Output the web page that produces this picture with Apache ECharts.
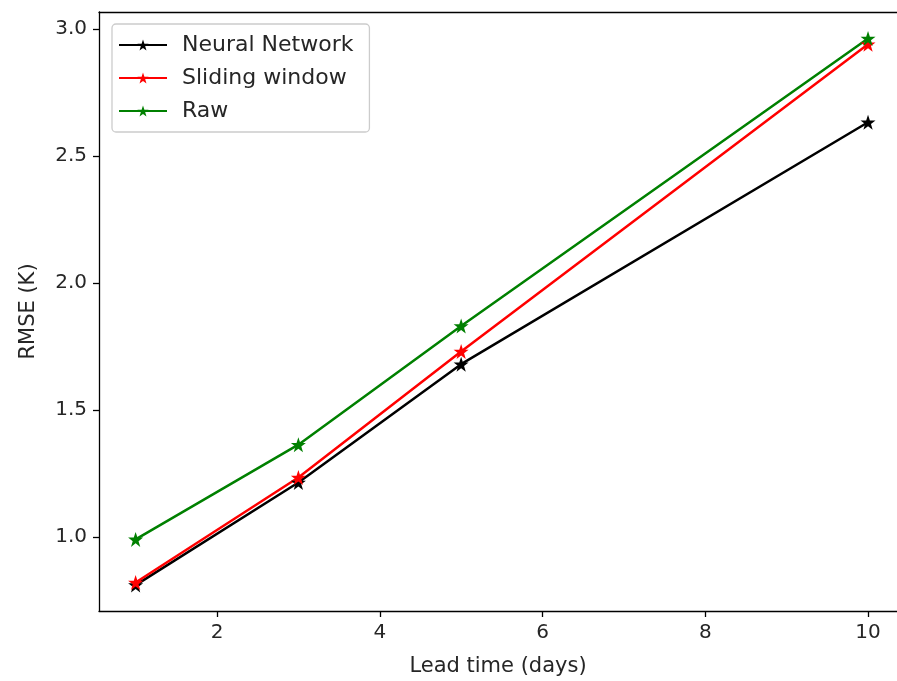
<!DOCTYPE html>
<html>
<head>
<meta charset="utf-8">
<script src="https://cdn.jsdelivr.net/npm/echarts@6/dist/echarts.min.js"></script>
<style>
  html, body { margin: 0; padding: 0; background: #fff; }
  #chart { width: 897px; height: 681px; }
</style>
</head>
<body>
<div id="chart"></div>
<script>
const leadTimes = [1, 3, 5, 10]
const neuralNetwork = [0.81, 1.214, 1.68, 2.633]
const slidingWindow = [0.82, 1.234, 1.73, 2.94]
const raw = [0.99, 1.363, 1.83, 2.963]
const xTicks = [2, 4, 6, 8, 10]
const yTicks = [1.0, 1.5, 2.0, 2.5, 3.0]

const star = 'path://M50,0 L61.8,34.5 L97.6,34.5 L68.6,55.9 L79.4,90.5 L50,69.1 L20.6,90.5 L31.4,55.9 L2.4,34.5 L38.2,34.5 Z'
const font = 'DejaVu Sans'
const txt = '#262626'

const pairs = ys => leadTimes.map((x, i) => [x, ys[i]])

const mkSeries = (name, ys, color) => ({
  name,
  type: 'line',
  data: pairs(ys),
  symbol: star,
  symbolSize: 15,
  showSymbol: true,
  lineStyle: { color, width: 2.5 },
  itemStyle: { color },
  animation: false,
  emphasis: { disabled: true },
})

// plot is cut off on the right in the reference: no right spine, x range ends at ~10.36
const chart = echarts.init(document.getElementById('chart'))
chart.setOption({
  backgroundColor: '#fff',
  textStyle: { fontFamily: font },
  grid: { left: 99, right: 0, top: 12, bottom: 70, show: false, outerBoundsMode: 'none', containLabel: false },
  legend: {
    orient: 'vertical',
    left: 112, top: 24,
    padding: [10, 16, 10, 6],
    backgroundColor: 'rgba(255,255,255,0.8)',
    borderColor: '#cccccc', borderWidth: 1.3, borderRadius: 4,
    itemWidth: 48, itemHeight: 14, itemGap: 11,
    textStyle: { fontFamily: font, fontSize: 22, color: txt, lineHeight: 22, padding: [0, 0, 0, 10] },
    data: ['Neural Network', 'Sliding window', 'Raw'],
  },
  xAxis: [{
    type: 'value',
    min: 0.55, max: 10.356,
    name: 'Lead time (days)',
    nameLocation: 'middle', nameGap: 45,
    nameTextStyle: { fontFamily: font, fontSize: 21, color: txt },
    axisLine: { show: true, lineStyle: { color: '#000', width: 1.3 } },
    axisTick: { show: true, length: 6, customValues: xTicks, lineStyle: { color: '#000', width: 1.3 } },
    axisLabel: { customValues: xTicks, fontFamily: font, fontSize: 20, color: txt, margin: 12 },
    splitLine: { show: false },
  }, {
    type: 'value', position: 'top',
    min: 0.55, max: 10.356,
    axisLine: { show: true, onZero: false, lineStyle: { color: '#000', width: 1.3 } },
    axisTick: { show: false }, axisLabel: { show: false }, splitLine: { show: false },
  }],
  yAxis: {
    type: 'value',
    min: 0.708, max: 3.067,
    name: 'RMSE (K)',
    nameLocation: 'middle', nameGap: 60,
    nameTextStyle: { fontFamily: font, fontSize: 21, color: txt },
    axisLine: { show: true, lineStyle: { color: '#000', width: 1.3 } },
    axisTick: { show: true, length: 6, customValues: yTicks, lineStyle: { color: '#000', width: 1.3 } },
    axisLabel: {
      customValues: yTicks, fontFamily: font, fontSize: 20, color: txt, margin: 12,
      formatter: v => Number(v).toFixed(1),
    },
    splitLine: { show: false },
  },
  series: [
    mkSeries('Neural Network', neuralNetwork, '#000000'),
    mkSeries('Sliding window', slidingWindow, '#ff0000'),
    mkSeries('Raw', raw, '#008000'),
  ],
})
</script>
</body>
</html>
